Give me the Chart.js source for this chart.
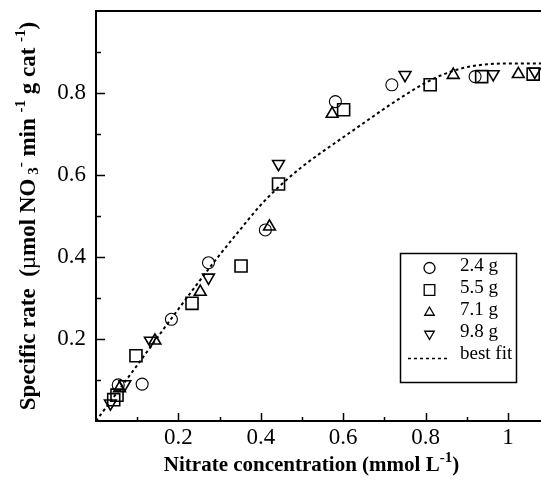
<!DOCTYPE html>
<html>
<head>
<meta charset="utf-8">
<script src="https://cdn.jsdelivr.net/npm/chart.js@4/dist/chart.umd.min.js"></script>
<style>
  html, body { margin: 0; padding: 0; background: #fff; }
  #wrap { width: 541px; height: 484px; }
</style>
</head>
<body>
<div id="wrap"><canvas id="rate" width="541" height="484"></canvas></div>
<script>
// nitrate concentration (mmol/L) vs specific rate, one series per catalyst mass
var conc24 = [0.054, 0.112, 0.183, 0.273, 0.411, 0.581, 0.718, 0.920];
var rate24 = [0.088, 0.090, 0.248, 0.386, 0.466, 0.779, 0.820, 0.840];

var conc55 = [0.043, 0.051, 0.097, 0.233, 0.352, 0.443, 0.601, 0.811, 0.936, 1.061];
var rate55 = [0.052, 0.063, 0.159, 0.287, 0.378, 0.578, 0.759, 0.820, 0.840, 0.846];

var conc71 = [0.057, 0.143, 0.253, 0.421, 0.573, 0.867, 1.025];
var rate71 = [0.080, 0.196, 0.315, 0.474, 0.749, 0.844, 0.846];

var conc98 = [0.035, 0.070, 0.132, 0.273, 0.443, 0.750, 0.964, 1.065];
var rate98 = [0.043, 0.090, 0.196, 0.350, 0.627, 0.844, 0.846, 0.852];

// best fit curve
var fitConc = [0, 0.05, 0.10, 0.15, 0.20, 0.25, 0.30, 0.35, 0.40, 0.45, 0.50, 0.55,
               0.60, 0.65, 0.70, 0.75, 0.80, 0.85, 0.90, 0.95, 1.00, 1.05, 1.08];
var fitRate = [0, 0.068, 0.136, 0.205, 0.273, 0.340, 0.405, 0.467, 0.527, 0.577, 0.620, 0.657,
               0.692, 0.727, 0.762, 0.795, 0.825, 0.848, 0.863, 0.870, 0.872, 0.872, 0.872];

var xTicks = [0.2, 0.4, 0.6, 0.8, 1];
var xMinor = [0.1, 0.3, 0.5, 0.7, 0.9];
var yTicks = [0.2, 0.4, 0.6, 0.8];
var yMinor = [0.1, 0.3, 0.5, 0.7, 0.9];

var legendNames = ['2.4 g', '5.5 g', '7.1 g', '9.8 g', 'best fit'];

function pairs(xs, ys) {
  return xs.map(function(x, i) { return {x: x, y: ys[i]}; });
}

function near(list, v) {
  for (var i = 0; i < list.length; i++) if (Math.abs(list[i] - v) < 1e-6) return true;
  return false;
}

var SERIF = '"Liberation Serif", "Times New Roman", serif';

function markerSet(label, data, style, radius, rotation, width) {
  return {
    type: 'scatter',
    label: label,
    data: data,
    pointStyle: style,
    pointRadius: radius,
    pointHoverRadius: radius,
    pointRotation: rotation,
    pointBorderWidth: width,
    borderColor: '#000',
    pointBorderColor: '#000',
    pointBackgroundColor: 'rgba(0,0,0,0)',
    backgroundColor: 'rgba(0,0,0,0)'
  };
}

// text with super/subscripts, optionally turned for the y axis
function drawRich(ctx, segs, x, y, vertical) {
  var total = 0;
  segs.forEach(function(s) {
    ctx.font = s.font;
    s.w = ctx.measureText(s.t).width;
    total += s.w;
  });
  ctx.save();
  ctx.translate(x, y);
  if (vertical) ctx.rotate(-Math.PI / 2);
  ctx.fillStyle = '#000';
  ctx.textAlign = 'left';
  ctx.textBaseline = 'alphabetic';
  var pos = -total / 2;
  segs.forEach(function(s) {
    ctx.font = s.font;
    ctx.fillText(s.t, pos, s.dy || 0);
    pos += s.w;
  });
  ctx.restore();
}

var YB = 'bold 23px ' + SERIF;
var YS = 'bold 15px ' + SERIF;
var yTitle = [
  {t: 'Specific rate  (', font: YB},
  {t: '\u00b5', font: '23px ' + SERIF},
  {t: 'mol NO', font: YB},
  {t: ' 3', font: YS, dy: 3},
  {t: '-', font: YS, dy: -10},
  {t: ' min ', font: YB},
  {t: '-1', font: YS, dy: -10},
  {t: ' g cat ', font: YB},
  {t: '-1', font: YS, dy: -10},
  {t: ')', font: YB}
];
var XB = 'bold 21px ' + SERIF;
var xTitle = [
  {t: 'Nitrate concentration (mmol L', font: XB},
  {t: '-1', font: 'bold 15px ' + SERIF, dy: -9},
  {t: ')', font: XB}
];

var framePlugin = {
  id: 'frame',
  afterDraw: function(chart) {
    var ctx = chart.ctx, a = chart.chartArea;
    var xs = chart.scales.x, ys = chart.scales.y;
    ctx.save();
    ctx.strokeStyle = '#000';
    ctx.lineWidth = 2;
    ctx.beginPath();
    ctx.moveTo(a.right + 2, a.top);
    ctx.lineTo(a.left, a.top);
    ctx.lineTo(a.left, a.bottom);
    ctx.lineTo(a.right + 2, a.bottom);
    ctx.stroke();

    // inward tick marks
    ctx.lineWidth = 1.5;
    ctx.beginPath();
    xTicks.concat(xMinor).forEach(function(v) {
      var px = Math.round(xs.getPixelForValue(v)) + 0.5;
      var len = near(xTicks, v) ? 8 : 4;
      ctx.moveTo(px, a.bottom);
      ctx.lineTo(px, a.bottom - len);
    });
    yTicks.concat(yMinor).forEach(function(v) {
      var py = Math.round(ys.getPixelForValue(v)) + 0.5;
      var len = near(yTicks, v) ? 9 : 5;
      ctx.moveTo(a.left, py);
      ctx.lineTo(a.left + len, py);
    });
    ctx.stroke();
    ctx.restore();

    drawRich(ctx, yTitle, 35, (a.top + a.bottom) / 2, true);
    drawRich(ctx, xTitle, (a.left + a.right) / 2 - 7, 471, false);

    // legend box
    var bx = 400.5, by = 253.5, bw = 116, bh = 129;
    ctx.save();
    ctx.strokeStyle = '#000';
    ctx.lineWidth = 1.5;
    ctx.strokeRect(bx, by, bw, bh);
    ctx.font = '19px ' + SERIF;
    ctx.fillStyle = '#000';
    ctx.textBaseline = 'middle';
    ctx.textAlign = 'left';
    var rowY = [268, 290, 312.5, 334, 356.5];
    chart.data.datasets.forEach(function(ds, i) {
      var yy = rowY[i];
      if (ds.type === 'scatter') {
        ctx.strokeStyle = '#000';
        ctx.fillStyle = 'rgba(0,0,0,0)';
        ctx.lineWidth = 1.3;
        Chart.helpers.drawPoint(ctx, {
          pointStyle: ds.pointStyle,
          radius: ds.pointStyle === 'rect' ? 7.5 : 5.5,
          rotation: ds.pointRotation,
          borderWidth: 1.3
        }, 429.5, yy);
      } else {
        ctx.strokeStyle = '#000';
        ctx.lineWidth = 1.5;
        ctx.setLineDash([3, 3]);
        ctx.beginPath();
        ctx.moveTo(408, yy + 2);
        ctx.lineTo(449, yy + 2);
        ctx.stroke();
        ctx.setLineDash([]);
      }
      ctx.fillStyle = '#000';
      ctx.fillText(legendNames[i], 460, yy - 2);
    });
    ctx.restore();
  }
};

function noPad(s) {
  s.paddingLeft = 0;
  s.paddingRight = 0;
  s.paddingTop = 0;
  s.paddingBottom = 0;
}

new Chart(document.getElementById('rate'), {
  data: {
    datasets: [
      markerSet(legendNames[0], pairs(conc24, rate24), 'circle', 6, 0, 1.1),
      markerSet(legendNames[1], pairs(conc55, rate55), 'rect', 8.5, 0, 1.6),
      markerSet(legendNames[2], pairs(conc71, rate71), 'triangle', 6.8, 0, 1.6),
      markerSet(legendNames[3], pairs(conc98, rate98), 'triangle', 6.8, 180, 1.6),
      {
        type: 'line',
        label: legendNames[4],
        data: pairs(fitConc, fitRate),
        borderColor: '#000',
        borderWidth: 2,
        borderDash: [3, 3],
        pointRadius: 0,
        cubicInterpolationMode: 'monotone',
        fill: false
      }
    ]
  },
  options: {
    responsive: false,
    devicePixelRatio: 1,
    animation: false,
    layout: { padding: { top: 11, right: 0, left: 0, bottom: 0 }, autoPadding: false },
    plugins: {
      legend: { display: false },
      tooltip: { enabled: false }
    },
    scales: {
      x: {
        type: 'linear',
        min: 0,
        max: 1.08,
        afterFit: function(s) { s.height = 63; noPad(s); },
        grid: { display: false, drawTicks: false },
        border: { display: false },
        ticks: {
          stepSize: 0.2,
          includeBounds: false,
          padding: 3,
          maxRotation: 0,
          autoSkip: false,
          color: '#000',
          font: { family: SERIF, size: 23 },
          callback: function(v) {
            if (!near(xTicks, v)) return '';
            return Math.abs(v - 1) < 1e-6 ? '1' : v.toFixed(1);
          }
        }
      },
      y: {
        type: 'linear',
        min: 0,
        max: 1,
        afterFit: function(s) { s.width = 96; noPad(s); },
        grid: { display: false, drawTicks: false },
        border: { display: false },
        ticks: {
          stepSize: 0.2,
          includeBounds: false,
          padding: 10,
          autoSkip: false,
          color: '#000',
          font: { family: SERIF, size: 23 },
          callback: function(v) {
            return near(yTicks, v) ? v.toFixed(1) : '';
          }
        }
      }
    }
  },
  plugins: [framePlugin]
});
</script>
</body>
</html>
